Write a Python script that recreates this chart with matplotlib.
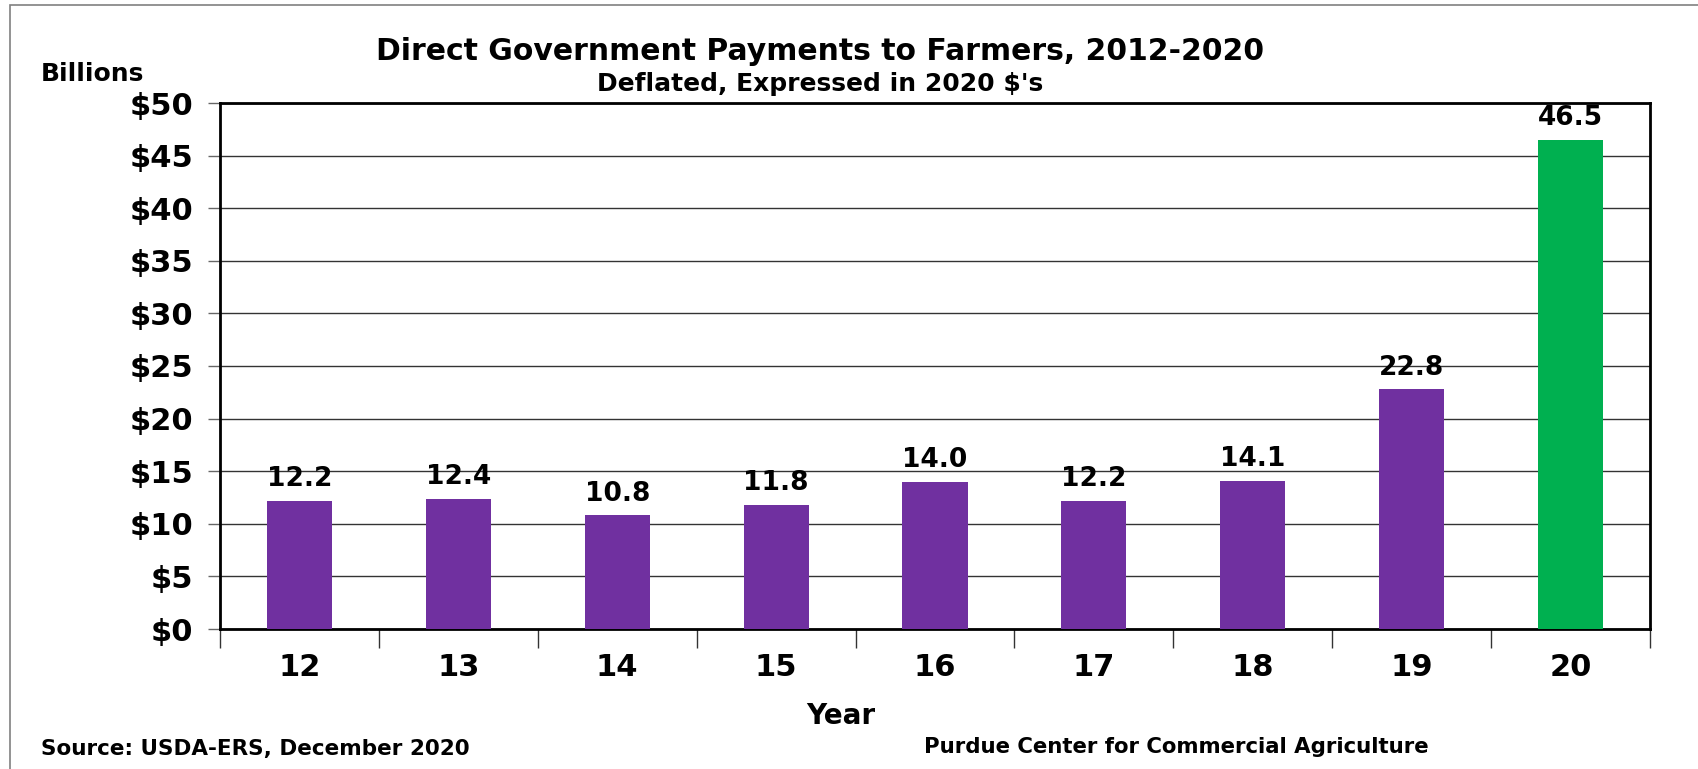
import matplotlib
matplotlib.use("Agg")
import matplotlib.pyplot as plt
from matplotlib.patches import Rectangle

years = ["12", "13", "14", "15", "16", "17", "18", "19", "20"]
payments = [12.2, 12.4, 10.8, 11.8, 14.0, 12.2, 14.1, 22.8, 46.5]
bar_colors = ["#7030A0"] * 8 + ["#00B050"]
y_ticks = [0, 5, 10, 15, 20, 25, 30, 35, 40, 45, 50]

W, H = 1698, 769
fig = plt.figure(figsize=(W / 100, H / 100), dpi=100)
plt.rcParams['font.family'] = ['DejaVu Sans']

# outer frame (left and top edges visible)
fig.patches.append(Rectangle((10 / W, -0.01), 1.1, 1 - 5 / H + 0.01, transform=fig.transFigure,
                             fill=False, edgecolor="#808080", linewidth=1.2))

left, right, top, bottom = 220, 1650, 103, 629
ax = fig.add_axes([left / W, 1 - bottom / H, (right - left) / W, (bottom - top) / H])

x = range(len(years))
ax.bar(x, payments, width=0.41, color=bar_colors, zorder=3)
for i, v in enumerate(payments):
    ax.text(i, v + 0.8, f"{v:.1f}", ha="center", va="bottom",
            fontsize=19, fontweight="bold", zorder=4)

ax.set_xlim(-0.5, len(years) - 0.5)
ax.set_ylim(0, 50)
ax.set_yticks(y_ticks)
ax.set_yticklabels([f"${t}" for t in y_ticks], fontsize=22, fontweight="bold")
ax.yaxis.grid(True, color="#333333", linewidth=1.0, zorder=0)

ax.set_xticks([i - 0.5 for i in range(len(years) + 1)])
ax.set_xticklabels([])
ax.set_xticks(list(x), minor=True)
ax.set_xticklabels(years, minor=True, fontsize=22, fontweight="bold")
ax.tick_params(axis="x", which="minor", length=0, pad=17)
ax.tick_params(axis="x", which="major", length=14, width=1, color="#333333")
ax.tick_params(axis="y", length=9, width=1, color="#666666", pad=10)

for s in ax.spines.values():
    s.set_linewidth(2)
    s.set_color("black")

fig.text(820 / W, 1 - 51 / H, "Direct Government Payments to Farmers, 2012-2020",
         ha="center", va="center", fontsize=21.5, fontweight="bold")
fig.text(820 / W, 1 - 84 / H, "Deflated, Expressed in 2020 $'s",
         ha="center", va="center", fontsize=18, fontweight="bold")
fig.text(41 / W, 1 - 74 / H, "Billions", ha="left", va="center",
         fontsize=18, fontweight="bold")
fig.text(841 / W, 1 - 716 / H, "Year", ha="center", va="center",
         fontsize=20, fontweight="bold")
fig.text(41 / W, 1 - 749 / H, "Source: USDA-ERS, December 2020", ha="left", va="center",
         fontsize=15.5, fontweight="bold")
fig.text(1176 / W, 1 - 747 / H, "Purdue Center for Commercial Agriculture", ha="center",
         va="center", fontsize=15.3, fontweight="bold")

fig.savefig("out.png", dpi=100)
